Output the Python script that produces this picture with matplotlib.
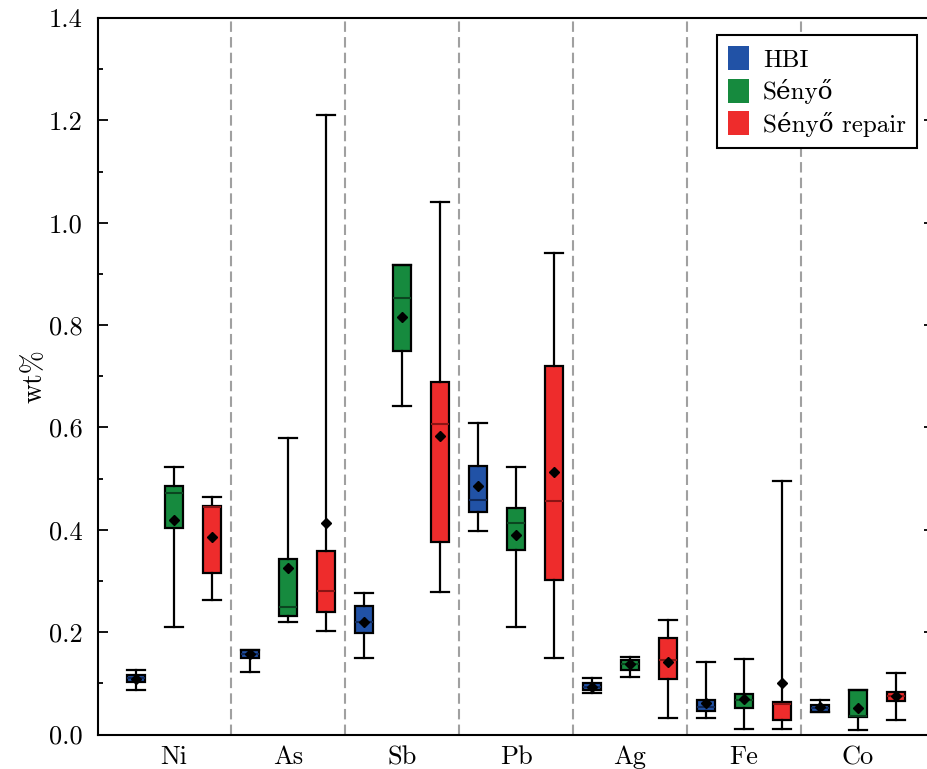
import matplotlib
matplotlib.use("Agg")
import matplotlib.pyplot as plt
from matplotlib.patches import Patch
import numpy as np

plt.rcParams['font.family'] = ['cmr10', 'DejaVu Serif']
plt.rcParams['mathtext.fontset'] = 'cm'
plt.rcParams['axes.formatter.use_mathtext'] = True

elements = ["Ni", "As", "Sb", "Pb", "Ag", "Fe", "Co"]
series = ["HBI", "Sényő", "Sényő repair"]

# per series: whisker low, q1, median, q3, whisker high, mean (wt%)
hbi_whislo = [0.087, 0.123, 0.149, 0.397, 0.081, 0.033, 0.043]
hbi_q1     = [0.103, 0.150, 0.198, 0.435, 0.087, 0.046, 0.043]
hbi_med    = [0.110, 0.158, 0.219, 0.459, 0.093, 0.054, 0.051]
hbi_q3     = [0.116, 0.165, 0.251, 0.524, 0.100, 0.067, 0.058]
hbi_whishi = [0.126, 0.165, 0.277, 0.608, 0.110, 0.141, 0.067]
hbi_mean   = [0.108, 0.157, 0.219, 0.485, 0.093, 0.061, 0.053]

sen_whislo = [0.211, 0.219, 0.641, 0.210, 0.113, 0.011, 0.009]
sen_q1     = [0.404, 0.232, 0.750, 0.361, 0.127, 0.051, 0.035]
sen_med    = [0.472, 0.250, 0.852, 0.414, 0.138, 0.068, 0.037]
sen_q3     = [0.485, 0.343, 0.918, 0.442, 0.146, 0.079, 0.087]
sen_whishi = [0.522, 0.580, 0.918, 0.522, 0.151, 0.147, 0.087]
sen_mean   = [0.419, 0.325, 0.816, 0.390, 0.138, 0.070, 0.051]

rep_whislo = [0.262, 0.202, 0.278, 0.150, 0.033, 0.011, 0.028]
rep_q1     = [0.316, 0.240, 0.377, 0.302, 0.108, 0.028, 0.066]
rep_med    = [0.444, 0.281, 0.607, 0.456, 0.146, 0.060, 0.075]
rep_q3     = [0.447, 0.359, 0.689, 0.721, 0.189, 0.063, 0.084]
rep_whishi = [0.464, 1.211, 1.040, 0.940, 0.224, 0.496, 0.121]
rep_mean   = [0.386, 0.413, 0.584, 0.513, 0.142, 0.101, 0.076]

data = [
    (hbi_whislo, hbi_q1, hbi_med, hbi_q3, hbi_whishi, hbi_mean),
    (sen_whislo, sen_q1, sen_med, sen_q3, sen_whishi, sen_mean),
    (rep_whislo, rep_q1, rep_med, rep_q3, rep_whishi, rep_mean),
]
colors = ["#2152a6", "#168a3e", "#ee2c2c"]
median_colors = ["#10295a", "#0b4520", "#8a1414"]
offsets = [-1/3, 0, 1/3]
box_w = 0.16

fig = plt.figure(figsize=(9.27, 7.69), dpi=100)
ax = fig.add_axes([98/927, 1 - 734.5/769, (934 - 98)/927, (734.5 - 18)/769])

x = np.arange(len(elements))
for s, (wl, q1, md, q3, wh, mn) in enumerate(data):
    stats = []
    for i in range(len(elements)):
        stats.append(dict(whislo=wl[i], q1=q1[i], med=md[i], q3=q3[i],
                          whishi=wh[i], mean=mn[i], fliers=[]))
    ax.bxp(stats, positions=x + offsets[s], widths=box_w, patch_artist=True,
           showmeans=True, showfliers=False, capwidths=box_w,
           boxprops=dict(facecolor=colors[s], edgecolor="black", linewidth=1.6),
           medianprops=dict(color=median_colors[s], linewidth=1.5),
           whiskerprops=dict(color="black", linewidth=1.6),
           capprops=dict(color="black", linewidth=1.6),
           meanprops=dict(marker="D", markerfacecolor="black",
                          markeredgecolor="black", markersize=5.5))

for i in range(len(elements) - 1):
    ax.axvline(i + 0.5, color="#a0a0a0", linestyle=(0, (5, 2.5)), linewidth=1.5, zorder=0)

ax.set_xlim(-2/3, len(elements) - 1 + 2/3)
ax.set_ylim(0, 1.4)
ax.set_xticks(x)
ax.set_xticklabels(elements)
ax.set_yticks(np.arange(0, 1.41, 0.2))
ax.set_yticklabels([f"{v:.1f}" for v in np.arange(0, 1.41, 0.2)])
ax.set_yticks(np.arange(0.1, 1.4, 0.2), minor=True)
ax.tick_params(axis="y", which="major", direction="in", length=7, width=1.3,
               labelsize=19, right=True, pad=11)
ax.tick_params(axis="y", which="minor", direction="in", length=3.5, width=1.3, right=True)
ax.tick_params(axis="x", which="both", length=0, labelsize=19, pad=8)
ax.set_ylabel("wt%", fontsize=20, labelpad=1)
for sp in ax.spines.values():
    sp.set_linewidth(1.5)

handles = [Patch(facecolor=c, edgecolor="none") for c in colors]
leg = ax.legend(handles, series, loc="upper right", bbox_to_anchor=(0.9797, 0.9763),
                borderaxespad=0, fontsize=18, frameon=True, fancybox=False, framealpha=1,
                edgecolor="black", handlelength=0.85, handleheight=1.1,
                handletextpad=0.55, borderpad=0.45, labelspacing=0.28)
leg.get_frame().set_linewidth(1.5)

fig.savefig("out.png", dpi=100)
